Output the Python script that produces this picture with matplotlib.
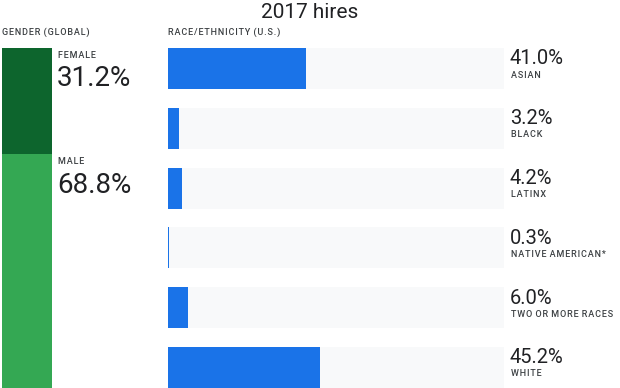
import matplotlib
matplotlib.use("Agg")
import matplotlib.pyplot as plt

plt.rcParams['font.family'] = ['Roboto', 'DejaVu Sans']

title = "2017 hires"
gender_labels = ["FEMALE", "MALE"]
gender_values = [31.2, 68.8]
race_labels = ["ASIAN", "BLACK", "LATINX", "NATIVE AMERICAN*", "TWO OR MORE RACES", "WHITE"]
race_values = [41.0, 3.2, 4.2, 0.3, 6.0, 45.2]

W, H = 620, 388
fig = plt.figure(figsize=(W / 100, H / 100), dpi=100)

dark = "#202124"
grey = "#3c4043"
gender_colors = ["#0d652d", "#34a853"]
blue = "#1a73e8"
bg = "#f8f9fa"
small = dict(fontsize=6.5, color=grey, fontweight="medium")


def px(x, y, w, h):
    # pixel box (top-left origin) -> figure fraction
    return [x / W, 1 - (y + h) / H, w / W, h / H]


def spaced(s):
    # fake letter spacing with hair spaces
    return " \u200a".join("\u200a".join(w) for w in s.split(" "))


fig.text(0.5, 1 - 12 / H, title, ha="center", va="center", fontsize=15, color=dark)
fig.text(2 / W, 1 - 32 / H, spaced("GENDER (GLOBAL)"), ha="left", va="center", **small)
fig.text(168 / W, 1 - 32 / H, spaced("RACE/ETHNICITY (U.S.)"), ha="left", va="center", **small)

# gender stacked bar
axg = fig.add_axes(px(2, 48, 50, 340))
bottom = 0
for lab, val, col in zip(gender_labels, gender_values, gender_colors):
    axg.bar(0, val, bottom=bottom, width=1, color=col)
    axg.annotate(spaced(lab), xy=(1, bottom), xycoords=("axes fraction", "data"),
                 xytext=(6, -7), textcoords="offset pixels", ha="left", va="center", **small)
    axg.annotate(f"{val:.1f}%", xy=(1, bottom), xycoords=("axes fraction", "data"),
                 xytext=(5, -31), textcoords="offset pixels", ha="left", va="center",
                 fontsize=20, color=dark)
    bottom += val
axg.set_xlim(-0.5, 0.5)
axg.set_ylim(100, 0)
axg.axis("off")

# race bars
axr = fig.add_axes(px(168, 48, 336, 340))
h = 0.686
ys = list(range(len(race_labels)))
axr.barh(ys, [100] * len(ys), height=h, color=bg)
axr.barh(ys, race_values, height=h, color=blue)
for y, lab, val in zip(ys, race_labels, race_values):
    axr.annotate(f"{val:.1f}%", xy=(100, y - h / 2), xycoords="data",
                 xytext=(6, -11), textcoords="offset pixels", ha="left", va="center",
                 fontsize=14.5, color=dark)
    axr.annotate(spaced(lab), xy=(100, y - h / 2), xycoords="data",
                 xytext=(7, -27), textcoords="offset pixels", ha="left", va="center", **small)
axr.set_xlim(0, 100)
axr.set_ylim(len(ys) - 1 + h / 2, -h / 2)
axr.axis("off")

fig.savefig("out.png", dpi=100)
